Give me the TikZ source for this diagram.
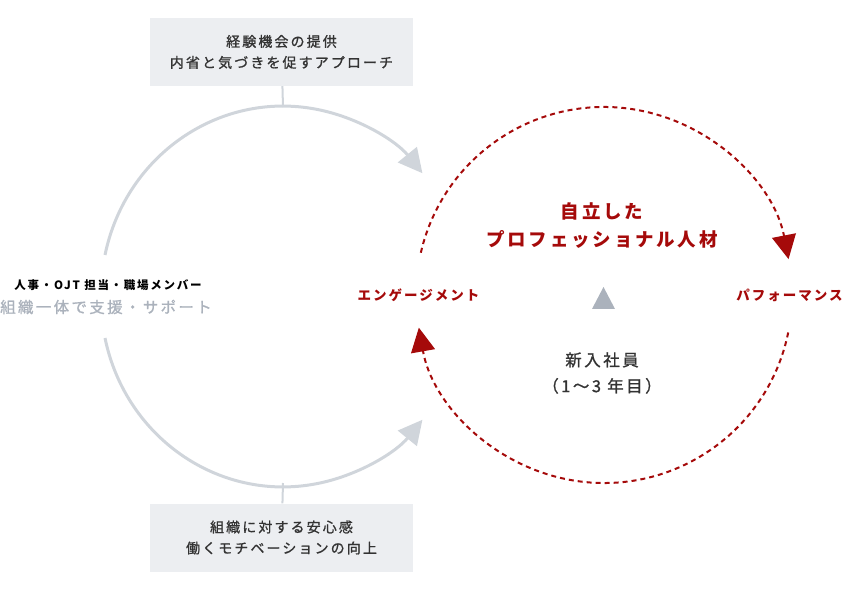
\documentclass[tikz,border=0pt]{standalone}
\usepackage{fontspec}
\usetikzlibrary{arrows.meta}
\newfontfamily\jpfont[LetterSpace=15]{Noto Sans CJK JP}
\newfontfamily\jpmedium[LetterSpace=15, FakeBold=1]{Noto Sans CJK JP}
\definecolor{cyclered}{HTML}{A50A0A}
\definecolor{supportgray}{HTML}{D0D5DB}
\definecolor{boxgray}{HTML}{ECEEF1}
\definecolor{labelgray}{HTML}{ABB2BC}
\definecolor{textdark}{HTML}{333333}
\tikzset{
  infobox/.style={fill=boxgray, align=center, minimum width=263pt, minimum height=68pt, text=textdark, font=\jpmedium\fontsize{14}{21}\selectfont},
  supportarc/.style={supportgray, line width=3pt, -{Triangle[length=24pt,width=24pt]}},
  cyclearc/.style={cyclered, line width=2pt, dash pattern=on 5pt off 4pt, -{Triangle[length=24pt,width=24pt]}},
  stagelabel/.style={text=cyclered, font=\jpfont\bfseries\fontsize{13.5}{16}\selectfont},
}
\begin{document}
\begin{tikzpicture}[x=1pt, y=1pt]
\useasboundingbox (0,0) rectangle (844,590);
% support side
\node[infobox] (offer) at (281.5,538) {経験機会の提供\\内省と気づきを促すアプローチ};
\node[infobox] (safety) at (281.5,52.5) {組織に対する安心感\\働くモチベーションの向上};
\node[font=\jpfont\bfseries\fontsize{11.5}{14}\selectfont] (members) at (108,305) {人事・OJT 担当・職場メンバー};
\node[text=labelgray, font=\jpmedium\fontsize{15.5}{18}\selectfont] (support) at (106,283) {組織一体で支援・サポート};
\coordinate (offer-top) at (283,483);
\coordinate (safety-bottom) at (283,107);
\draw[supportgray, line width=2pt] (offer) -- (offer-top);
\draw[supportgray, line width=2pt] (safety) -- (safety-bottom);
\coordinate (offer-start) at (105,335);
\coordinate (safety-start) at (105,252);
\draw[supportarc] (offer-start) arc[start angle=168, end angle=40, x radius=182, y radius=188];
\draw[supportarc] (safety-start) arc[start angle=192, end angle=320, x radius=182, y radius=188];
% growth cycle
\node[text=cyclered, align=center, font=\jpfont\bfseries\fontsize{18.5}{28}\selectfont] (goal) at (602,364) {自立した\\プロフェッショナル人材};
\node[stagelabel] (engage) at (418.5,295) {エンゲージメント};
\node[stagelabel] (perform) at (789.5,295) {パフォーマンス};
\node[text=textdark, align=center, font=\jpmedium\fontsize{16.5}{26}\selectfont] (newhire) at (602,217) {新入社員\\（1〜3 年目）};
\fill[labelgray] (592,281) -- (615,281) -- (603.5,303) -- cycle;
\coordinate (engage-start) at ({604+188*cos(167)},{295+188*sin(167)});
\coordinate (perform-start) at ({604+188*cos(-11.5)},{295+188*sin(-11.5)});
\draw[cyclearc] (engage-start) arc[start angle=167, end angle=11, radius=188];
\draw[cyclearc] (perform-start) arc[start angle=-11.5, end angle=-170, radius=188];
\end{tikzpicture}
\end{document}
